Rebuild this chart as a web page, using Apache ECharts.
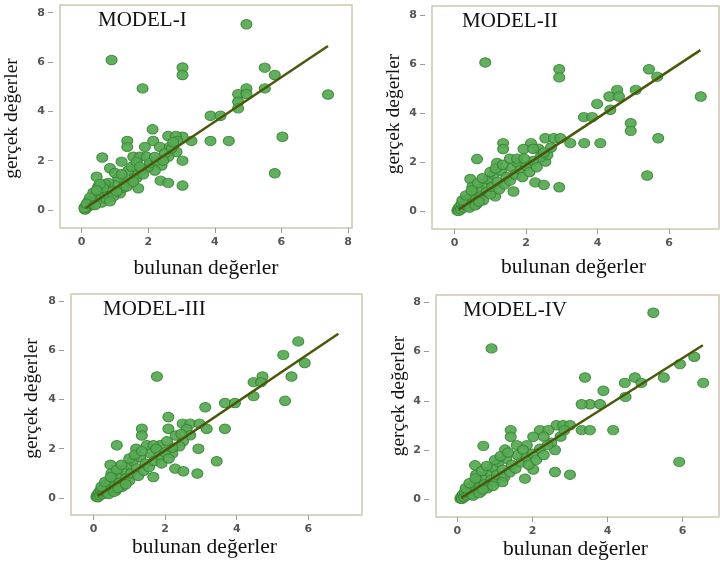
<!DOCTYPE html>
<html>
<head>
<meta charset="utf-8">
<script src="https://cdn.jsdelivr.net/npm/echarts@6/dist/echarts.min.js"></script>
<style>
  html, body { margin: 0; padding: 0; background: #fff; }
  #main { width: 720px; height: 564px; }
</style>
</head>
<body>
<div id="main"></div>
<script>
// axis labels / ticks
const tickValues = [0, 2, 4, 6, 8];
const xName = 'bulunan değerler';
const yName = 'gerçek değerler';
const modelNames = ['MODEL-I', 'MODEL-II', 'MODEL-III', 'MODEL-IV'];

// [bulunan, gerçek] pairs
const model1Points = [
	[4.95, 7.53], [0.9, 6.08], [3.03, 5.78], [3.03, 5.47], [1.83, 4.93], [5.5, 5.77], [5.8, 5.47],
	[5.5, 4.93], [4.95, 4.93], [7.4, 4.68], [4.7, 4.69], [4.95, 4.7], [4.7, 4.39], [4.7, 4.12],
	[3.87, 3.82], [4.17, 3.82], [6.03, 2.97], [5.8, 1.49], [3.87, 2.8], [4.42, 2.8], [3.3, 2.8],
	[3.03, 2.97], [3.03, 2.0], [3.03, 0.99], [2.37, 1.19], [2.6, 1.1], [2.13, 3.27], [1.37, 2.8],
	[1.37, 2.56], [2.15, 2.8], [1.9, 2.56], [2.35, 2.56], [2.6, 3.0], [2.83, 3.0], [2.87, 2.8],
	[2.65, 2.56], [0.62, 2.13], [1.2, 1.96], [1.55, 2.16], [1.75, 2.16], [1.95, 2.16], [0.85, 1.69],
	[1.7, 0.88], [0.45, 1.35], [2.85, 2.35], [2.6, 2.16], [2.4, 1.8], [2.2, 1.6], [2.0, 1.75],
	[1.8, 1.6], [1.6, 1.4], [1.4, 1.6], [1.3, 1.2], [1.1, 1.3], [1.0, 1.0], [1.15, 0.68], [0.9, 0.8],
	[0.8, 1.1], [0.7, 0.6], [0.6, 0.75], [0.55, 0.45], [0.5, 0.55], [0.45, 0.35], [0.4, 0.6],
	[0.35, 0.3], [0.3, 0.4], [0.3, 0.2], [0.25, 0.25], [0.2, 0.15], [0.2, 0.35], [0.15, 0.1],
	[0.12, 0.05], [0.1, 0.12], [0.1, 0.02], [0.08, 0.08], [0.6, 0.3], [0.75, 0.45], [0.95, 0.55],
	[1.25, 0.9], [1.45, 1.1], [1.65, 1.3], [1.85, 1.45], [2.05, 1.9], [2.25, 2.0], [2.5, 2.3],
	[2.7, 2.5], [2.75, 2.75], [0.5, 0.95], [0.7, 1.05], [1.0, 1.5], [1.2, 1.45], [1.5, 1.75],
	[1.65, 1.95], [2.2, 2.15], [0.35, 0.7], [0.25, 0.5], [0.15, 0.25], [0.4, 0.2], [0.65, 0.9],
	[0.85, 0.35], [1.05, 0.75], [1.35, 0.95], [1.55, 1.15], [1.75, 1.75], [2.45, 2.0], [0.55, 1.05],
	[0.45, 0.8]
];
const model2Points = [
	[0.86, 6.07], [2.93, 5.79], [2.93, 5.46], [5.44, 5.79], [5.67, 5.49], [5.07, 4.95], [4.55, 4.95],
	[4.33, 4.68], [4.6, 4.68], [6.89, 4.68], [3.99, 4.38], [4.36, 4.14], [3.62, 3.84], [3.85, 3.84],
	[4.93, 3.59], [4.93, 3.28], [5.7, 2.98], [5.39, 1.46], [3.24, 2.78], [3.63, 2.78], [4.08, 2.78],
	[2.93, 0.98], [2.26, 1.18], [2.5, 1.08], [2.54, 2.98], [2.78, 2.98], [2.96, 2.98], [2.54, 2.03],
	[1.36, 2.78], [1.36, 2.54], [2.14, 2.78], [1.93, 2.54], [0.63, 2.13], [1.19, 1.97], [0.44, 1.32],
	[1.65, 0.81], [1.14, 0.61], [2.35, 2.55], [2.6, 2.3], [2.7, 2.6], [2.4, 2.2],
	[0.08, 0.03], [0.1, 0.1], [0.12, 0.02], [0.15, 0.2], [0.18, 0.08], [0.2, 0.3], [0.25, 0.15],
	[0.28, 0.4], [0.3, 0.25], [0.35, 0.5], [0.38, 0.2], [0.4, 0.35], [0.45, 0.6], [0.5, 0.4],
	[0.55, 0.75], [0.6, 0.5], [0.62, 0.3], [0.7, 0.9], [0.72, 0.6], [0.8, 0.45], [0.85, 1.1],
	[0.9, 0.8], [0.95, 1.3], [1.0, 0.7], [1.05, 1.0], [1.1, 1.5], [1.2, 1.2], [1.25, 0.9],
	[1.3, 1.65], [1.4, 1.1], [1.45, 1.4], [1.55, 1.25], [1.6, 1.8], [1.7, 1.5], [1.75, 2.0],
	[1.85, 1.7], [1.9, 1.4], [2.0, 1.85], [2.1, 1.6], [2.2, 2.05], [2.3, 1.8], [2.5, 2.4],
	[0.5, 1.0], [0.65, 1.15], [0.78, 1.35], [1.0, 1.6], [1.15, 1.75], [1.35, 1.9], [1.55, 2.15],
	[1.75, 2.15], [1.95, 2.15], [2.2, 2.55], [0.22, 0.45], [0.32, 0.65], [0.42, 0.15], [0.48, 0.85],
	[0.58, 0.25], [0.68, 0.4]
];
const model3Points = [
	[5.72, 6.37], [5.3, 5.82], [5.9, 5.49], [1.77, 4.94], [5.53, 4.94], [5.35, 3.95], [4.72, 4.94],
	[4.47, 4.71], [4.47, 4.14], [4.68, 4.71], [3.67, 3.86], [3.95, 3.86], [3.12, 3.69], [2.09, 3.29],
	[1.35, 2.81], [1.35, 2.54], [2.09, 2.81], [2.49, 3.02], [2.7, 3.02], [2.96, 3.02], [3.16, 2.81],
	[3.67, 2.81], [2.93, 2.0], [3.44, 1.49], [2.28, 1.19], [2.51, 1.08], [2.9, 0.99], [1.67, 0.85],
	[0.65, 2.14], [0.47, 1.35], [1.19, 2.0], [1.86, 2.14], [1.49, 2.14], [1.67, 2.14], [2.3, 2.54],
	[2.6, 2.8], [2.7, 2.55], [2.5, 2.3], [2.4, 2.1], [2.2, 1.8],
	[0.08, 0.04], [0.1, 0.12], [0.12, 0.02], [0.15, 0.22], [0.18, 0.1], [0.2, 0.32], [0.25, 0.15],
	[0.28, 0.42], [0.3, 0.25], [0.35, 0.55], [0.38, 0.2], [0.4, 0.38], [0.45, 0.62], [0.5, 0.42],
	[0.55, 0.8], [0.6, 0.5], [0.62, 0.3], [0.7, 0.95], [0.72, 0.6], [0.8, 0.45], [0.85, 1.1],
	[0.9, 0.8], [0.95, 1.35], [1.0, 0.7], [1.05, 1.0], [1.1, 1.5], [1.2, 1.2], [1.25, 0.9],
	[1.3, 1.65], [1.4, 1.1], [1.45, 1.4], [1.55, 1.25], [1.6, 1.8], [1.7, 1.5], [1.75, 2.0],
	[1.85, 1.7], [1.9, 1.4], [2.0, 1.85], [2.1, 1.6], [2.2, 2.05], [2.05, 2.3],
	[0.5, 1.0], [0.65, 1.15], [0.78, 1.35], [1.0, 1.6], [1.15, 1.75], [1.35, 1.9], [2.45, 2.6],
	[0.22, 0.45], [0.32, 0.65], [0.42, 0.15], [0.48, 0.85], [0.58, 0.25], [0.68, 0.4], [0.9, 0.55]
];
const model4Points = [
	[5.22, 7.58], [0.91, 6.13], [5.93, 5.49], [6.31, 5.79], [6.55, 4.73], [5.5, 4.95], [4.73, 4.95],
	[4.46, 4.73], [4.9, 4.73], [4.48, 4.16], [3.89, 4.41], [3.4, 4.95], [3.53, 3.86], [3.8, 3.86],
	[3.31, 3.86], [3.31, 2.81], [3.53, 2.81], [4.15, 2.81], [5.91, 1.52], [3.0, 1.0], [2.6, 1.11],
	[2.02, 1.21], [1.8, 0.84], [1.42, 2.81], [1.42, 2.54], [0.69, 2.17], [1.27, 2.02], [2.64, 3.01],
	[2.82, 3.01], [3.0, 3.01], [2.2, 2.81], [2.42, 2.81], [2.02, 2.54], [0.47, 1.38], [1.58, 2.2],
	[1.85, 2.2], [2.6, 2.0], [2.75, 2.55], [2.5, 2.3], [2.3, 2.55], [2.85, 2.8],
	[0.08, 0.03], [0.1, 0.1], [0.12, 0.02], [0.15, 0.2], [0.18, 0.08], [0.2, 0.3], [0.25, 0.15],
	[0.28, 0.4], [0.3, 0.25], [0.35, 0.5], [0.38, 0.2], [0.4, 0.35], [0.45, 0.6], [0.5, 0.4],
	[0.55, 0.75], [0.6, 0.5], [0.62, 0.3], [0.7, 0.9], [0.72, 0.6], [0.8, 0.45], [0.85, 1.1],
	[0.9, 0.8], [0.95, 1.3], [1.0, 0.7], [1.05, 1.0], [1.1, 1.5], [1.2, 1.2], [1.25, 0.9],
	[1.3, 1.65], [1.4, 1.1], [1.45, 1.4], [1.55, 1.25], [1.6, 1.8], [1.7, 1.5], [1.75, 2.0],
	[1.85, 1.7], [1.9, 1.4], [2.0, 1.85], [2.1, 1.6], [2.2, 2.05], [2.3, 1.8], [2.4, 2.2],
	[0.5, 1.0], [0.65, 1.15], [0.78, 1.35], [1.0, 1.6], [1.15, 1.75], [1.35, 1.9], [1.2, 0.7],
	[0.22, 0.45], [0.32, 0.65], [0.42, 0.15], [0.48, 0.85], [0.58, 0.25], [0.68, 0.4], [0.95, 0.55]
];
const allPoints = [model1Points, model2Points, model3Points, model4Points];

// fitted line end points [bulunan, gerçek]
const fitLines = [
	[[0.12, 0.08], [7.4, 6.65]],
	[[0.12, 0.08], [6.88, 6.57]],
	[[0.12, 0.08], [6.84, 6.68]],
	[[0.1, 0.05], [6.54, 6.26]]
];

// axis ranges as seen in the frames
const xRanges = [[-0.65, 8.12], [-0.63, 7.4], [-0.63, 7.5], [-0.57, 6.97]];
const yRanges = [[-0.73, 8.31], [-0.72, 8.37], [-0.7, 8.3], [-0.72, 8.3]];

// layout (px)
const grids = [
	{ left: 60, top: 5, width: 292, height: 223 },
	{ left: 432, top: 6, width: 287, height: 223 },
	{ left: 71, top: 294, width: 291, height: 221 },
	{ left: 436, top: 295, width: 283, height: 222 }
];
const titlePos = [[98, 10], [462, 11], [103, 299], [463, 300]];
const yNameGap = [31, 21, 22, 20];
const xNameGap = [29, 27, 19, 14];
const xNamePad = [[0, 0, 0, 0], [0, 4, 0, 0], [0, 24, 0, 0], [0, 4, 0, 0]];
// rotated names: left padding moves the text up
const yNamePad = [[0, 4, 0, 0], [0, 0, 0, 7], [0, 0, 0, 12], [0, 0, 0, 20]];

const serif = '"Liberation Serif", "Times New Roman", serif';

const chart = echarts.init(document.getElementById('main'));

const tickLabel = {
	customValues: tickValues,
	fontFamily: 'DejaVu Sans, sans-serif',
	fontSize: 11,
	fontWeight: 'bold',
	color: '#555'
};

const option = {
	backgroundColor: '#fff',
	animation: false,
	title: modelNames.map((t, i) => ({
		text: t,
		left: titlePos[i][0],
		top: titlePos[i][1],
		padding: 0,
		textStyle: { fontFamily: serif, fontSize: 21, fontWeight: 'normal', color: '#111' }
	})),
	grid: grids.map(g => ({
		left: g.left,
		top: g.top,
		width: g.width,
		height: g.height,
		show: true,
		borderColor: '#cdc6b4',
		borderWidth: 1.5,
		backgroundColor: '#fff'
	})),
	xAxis: grids.map((g, i) => ({
		type: 'value',
		gridIndex: i,
		min: xRanges[i][0],
		max: xRanges[i][1],
		name: xName,
		nameLocation: 'middle',
		nameGap: xNameGap[i],
		nameTextStyle: { fontFamily: serif, fontSize: 21.5, color: '#111', padding: xNamePad[i] },
		axisLine: { show: false, onZero: false },
		splitLine: { show: false },
		axisTick: { show: true, length: 5, customValues: tickValues, lineStyle: { color: '#9a9a9a' } },
		axisLabel: Object.assign({ margin: 9 }, tickLabel)
	})),
	yAxis: grids.map((g, i) => ({
		type: 'value',
		gridIndex: i,
		min: yRanges[i][0],
		max: yRanges[i][1],
		offset: 7,
		name: yName,
		nameLocation: 'middle',
		nameGap: yNameGap[i],
		nameTextStyle: { fontFamily: serif, fontSize: 19.5, color: '#111', padding: yNamePad[i] },
		axisLine: { show: false, onZero: false },
		splitLine: { show: false },
		axisTick: { show: true, length: 5, customValues: tickValues, lineStyle: { color: '#9a9a9a' } },
		axisLabel: Object.assign({ margin: 8 }, tickLabel)
	})),
	series: []
};

allPoints.forEach((pts, i) => {
	option.series.push({
		type: 'scatter',
		xAxisIndex: i,
		yAxisIndex: i,
		data: pts,
		symbol: 'circle',
		symbolSize: [11, 9.5],
		itemStyle: { color: '#56a852', borderColor: '#378534', borderWidth: 1, opacity: 0.92 }
	});
	option.series.push({
		type: 'line',
		xAxisIndex: i,
		yAxisIndex: i,
		data: fitLines[i],
		symbol: 'none',
		lineStyle: { color: '#4a580c', width: 2.5 },
		z: 3
	});
});

chart.setOption(option);
</script>
</body>
</html>
